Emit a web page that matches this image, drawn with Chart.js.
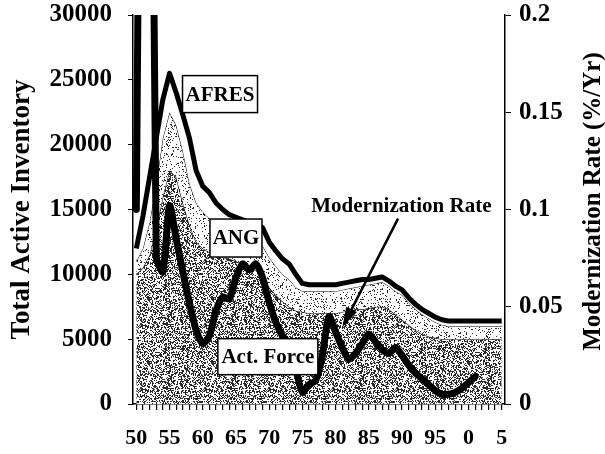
<!DOCTYPE html>
<html>
<head>
<meta charset="utf-8">
<script src="https://cdn.jsdelivr.net/npm/chart.js@4.4.1/dist/chart.umd.min.js"></script>
<style>
  html, body { margin: 0; padding: 0; background: #fff; }
  #wrap { width: 605px; height: 454px; position: relative; }
</style>
</head>
<body>
<div id="wrap"><canvas id="chart"></canvas></div>
<script>
// years on the x axis
var years = [1950, 1951, 1952, 1953, 1954, 1955, 1956, 1957, 1958, 1959,
  1960, 1961, 1962, 1963, 1964, 1965, 1966, 1967, 1968, 1969,
  1970, 1971, 1972, 1973, 1974, 1975, 1976, 1977, 1978, 1979,
  1980, 1981, 1982, 1983, 1984, 1985, 1986, 1987, 1988, 1989,
  1990, 1991, 1992, 1993, 1994, 1995, 1996, 1997, 1998, 1999,
  2000, 2001, 2002, 2003, 2004, 2005];
var yearTickLabels = { 1950: '50', 1955: '55', 1960: '60', 1965: '65', 1970: '70', 1975: '75',
  1980: '80', 1985: '85', 1990: '90', 1995: '95', 2000: '0', 2005: '5' };

// top of each band (cumulative inventory)
var actForceTop = [10000, 10500, 11500, 13500, 16000, 18000, 17500, 15500, 13800, 12500,
  12000, 11700, 11500, 11300, 11200, 11000, 10800, 10600, 10300, 9800,
  9000, 8400, 7900, 7500, 7200, 7100, 7000, 7000, 7000, 7000,
  7000, 7100, 7200, 7300, 7300, 7400, 7500, 7500, 7300, 6900,
  6500, 6100, 5700, 5400, 5200, 5100, 5000, 5000, 5000, 5000,
  5000, 5000, 5000, 5000, 5000, 5000];
var angTop = [11000, 12000, 14000, 17000, 20500, 22500, 21500, 19500, 17000, 15500,
  14800, 14300, 14000, 13700, 13400, 13100, 12900, 12700, 12500, 12200,
  11300, 10600, 10000, 9600, 9000, 8700, 8700, 8700, 8700, 8700,
  8700, 8800, 8900, 9000, 9100, 9200, 9300, 9400, 9100, 8700,
  8400, 7800, 7300, 6900, 6600, 6300, 6100, 6000, 6000, 6000,
  6000, 6000, 6000, 6000, 6000, 6000];
var totalInventory = [12000, 14500, 17500, 20500, 23500, 25500, 24000, 22300, 20500, 18000,
  16800, 16300, 15500, 15000, 14600, 14400, 14200, 14000, 13900, 13600,
  12500, 11800, 11200, 10800, 10000, 9300, 9200, 9200, 9200, 9200,
  9200, 9300, 9400, 9500, 9600, 9600, 9700, 9800, 9500, 9100,
  8800, 8200, 7700, 7300, 7000, 6700, 6500, 6400, 6400, 6400,
  6400, 6400, 6400, 6400, 6400, 6400];

// modernization rate (right axis)
var modRate = [0.1, 0.45, 0.45, 0.076, 0.068, 0.102, 0.085, 0.068, 0.052, 0.038,
  0.031, 0.035, 0.048, 0.055, 0.054, 0.065, 0.072, 0.069, 0.072, 0.065,
  0.052, 0.042, 0.035, 0.031, 0.018, 0.006, 0.01, 0.012, 0.025, 0.045,
  0.037, 0.029, 0.023, 0.026, 0.031, 0.036, 0.032, 0.028, 0.026, 0.029,
  0.025, 0.02, 0.016, 0.013, 0.01, 0.007, 0.005, 0.005, 0.006, 0.008,
  0.011, 0.014, null, null, null, null];

var leftTicks = [0, 5000, 10000, 15000, 20000, 25000, 30000];
var rightTicks = [0, 0.05, 0.1, 0.15, 0.2];

var serif = '"Liberation Serif", "Times New Roman", serif';

// stipple texture, deterministic
function makeStipple(density, seed) {
  var c = document.createElement('canvas');
  c.width = 64; c.height = 64;
  var g = c.getContext('2d');
  var img = g.createImageData(64, 64);
  var s = seed;
  for (var i = 0; i < 64 * 64; i++) {
    s = (s * 1103515245 + 12345) & 0x7fffffff;
    var v = (s / 0x7fffffff) < density ? 40 : 255;
    img.data[i * 4] = v; img.data[i * 4 + 1] = v; img.data[i * 4 + 2] = v; img.data[i * 4 + 3] = 255;
  }
  g.putImageData(img, 0, 0);
  return document.getElementById('chart').getContext('2d').createPattern(c, 'repeat');
}
var densePattern = makeStipple(0.42, 17);
var lightPattern = makeStipple(0.12, 91);

var notes = [
  { text: 'AFRES', year: 1962.6, value: 23900, w: 75, h: 37 },
  { text: 'ANG', year: 1965.0, value: 12800, w: 52, h: 38 },
  { text: 'Act. Force', year: 1969.8, value: 3650, w: 100, h: 36 }
];

var notesPlugin = {
  id: 'notes',
  afterDatasetsDraw: function(chart) {
    var ctx = chart.ctx;
    var xs = chart.scales.x, ys = chart.scales.y;
    ctx.save();
    ctx.textAlign = 'center';
    ctx.textBaseline = 'middle';
    notes.forEach(function(n) {
      var cx = xs.getPixelForValue(n.year - 1950);
      var cy = ys.getPixelForValue(n.value);
      ctx.fillStyle = '#fff';
      ctx.fillRect(cx - n.w / 2, cy - n.h / 2, n.w, n.h);
      ctx.strokeStyle = '#000';
      ctx.lineWidth = 1.5;
      ctx.strokeRect(cx - n.w / 2, cy - n.h / 2, n.w, n.h);
      ctx.fillStyle = '#000';
      ctx.font = 'bold 21px ' + serif;
      ctx.fillText(n.text, cx, cy + 1);
    });
    // modernization rate label and arrow
    var tx = xs.getPixelForValue(1989.9 - 1950);
    var ty = ys.getPixelForValue(15200);
    ctx.font = 'bold 21px ' + serif;
    ctx.fillText('Modernization Rate', tx, ty);
    var ax0 = xs.getPixelForValue(1989.4 - 1950), ay0 = ys.getPixelForValue(14300);
    var ax1 = xs.getPixelForValue(1981.3 - 1950), ay1 = ys.getPixelForValue(6200);
    ctx.strokeStyle = '#000';
    ctx.lineWidth = 2.5;
    ctx.beginPath(); ctx.moveTo(ax0, ay0); ctx.lineTo(ax1, ay1); ctx.stroke();
    var ang = Math.atan2(ay1 - ay0, ax1 - ax0);
    ctx.beginPath();
    ctx.moveTo(ax1 + 4 * Math.cos(ang), ay1 + 4 * Math.sin(ang));
    ctx.lineTo(ax1 - 16 * Math.cos(ang) + 6 * Math.sin(ang), ay1 - 16 * Math.sin(ang) - 6 * Math.cos(ang));
    ctx.lineTo(ax1 - 16 * Math.cos(ang) - 6 * Math.sin(ang), ay1 - 16 * Math.sin(ang) + 6 * Math.cos(ang));
    ctx.closePath();
    ctx.fill();
    // right axis title, reading upward
    var ya = chart.scales.y2;
    ctx.translate(594, (ya.top + ya.bottom) / 2 - 8);
    ctx.rotate(-Math.PI / 2);
    ctx.font = 'bold 25px ' + serif;
    ctx.fillText('Modernization Rate (%/Yr)', 0, 0);
    ctx.restore();
  }
};

function fixVertical(width) {
  return function(s) {
    s.width = width;
    s.paddingTop = 0;
    s.paddingBottom = 0;
  };
}

new Chart(document.getElementById('chart'), {
  type: 'line',
  data: {
    labels: years,
    datasets: [
      { label: 'Modernization Rate', data: modRate, yAxisID: 'y2', borderColor: '#000', borderWidth: 7,
        fill: false, pointRadius: 0, tension: 0.25, borderJoinStyle: 'round', borderCapStyle: 'round', spanGaps: false },
      { label: 'AFRES', data: totalInventory, yAxisID: 'y', borderColor: '#000', borderWidth: 5,
        backgroundColor: '#fff', fill: 2, pointRadius: 0, tension: 0, borderJoinStyle: 'round' },
      { label: 'ANG', data: angTop, yAxisID: 'y', borderColor: '#000', borderWidth: 1,
        backgroundColor: lightPattern, fill: 3, pointRadius: 0, tension: 0 },
      { label: 'Act. Force', data: actForceTop, yAxisID: 'y', borderColor: '#111', borderWidth: 1.2,
        backgroundColor: densePattern, fill: 'origin', pointRadius: 0, tension: 0 }
    ]
  },
  options: {
    responsive: true,
    maintainAspectRatio: false,
    animation: false,
    layout: { padding: { top: 15, left: 0, right: 0, bottom: 0 } },
    plugins: { legend: { display: false }, tooltip: { enabled: false } },
    scales: {
      x: {
        type: 'category',
        offset: true,
        border: { display: true, color: '#000', width: 1.5 },
        grid: { display: true, drawOnChartArea: false, drawTicks: true, tickLength: 6, color: '#000', lineWidth: 1.2 },
        ticks: {
          autoSkip: false, maxRotation: 0, minRotation: 0, padding: 15, color: '#000',
          font: { family: serif, size: 22, weight: 'bold' },
          callback: function(v, i) { return yearTickLabels[years[i]] || ''; }
        },
        afterFit: function(s) { s.height = 50; s.paddingLeft = 0; s.paddingRight = 0; }
      },
      y: {
        position: 'left',
        min: 0, max: 30000,
        afterBuildTicks: function(s) { s.ticks = leftTicks.map(function(v) { return { value: v }; }); },
        border: { display: true, color: '#000', width: 1.5 },
        grid: { display: true, drawOnChartArea: false, tickLength: 5, color: '#000' },
        ticks: { padding: 16, color: '#000', font: { family: serif, size: 25, weight: 'bold' },
          callback: function(v) { return String(v); } },
        title: { display: true, text: 'Total Active Inventory', color: '#000', padding: { top: 6, bottom: 0 },
          font: { family: serif, size: 27, weight: 'bold' } },
        afterFit: fixVertical(133)
      },
      y2: {
        position: 'right',
        min: 0, max: 0.2,
        afterBuildTicks: function(s) { s.ticks = rightTicks.map(function(v) { return { value: v }; }); },
        border: { display: true, color: '#000', width: 1.5 },
        grid: { display: true, drawOnChartArea: false, tickLength: 6, color: '#000' },
        ticks: { padding: 8, color: '#000', font: { family: serif, size: 25, weight: 'bold' },
          callback: function(v) { return String(Math.round(v * 100) / 100); } },
        afterFit: fixVertical(100)
      }
    }
  },
  plugins: [notesPlugin]
});
</script>
</body>
</html>
